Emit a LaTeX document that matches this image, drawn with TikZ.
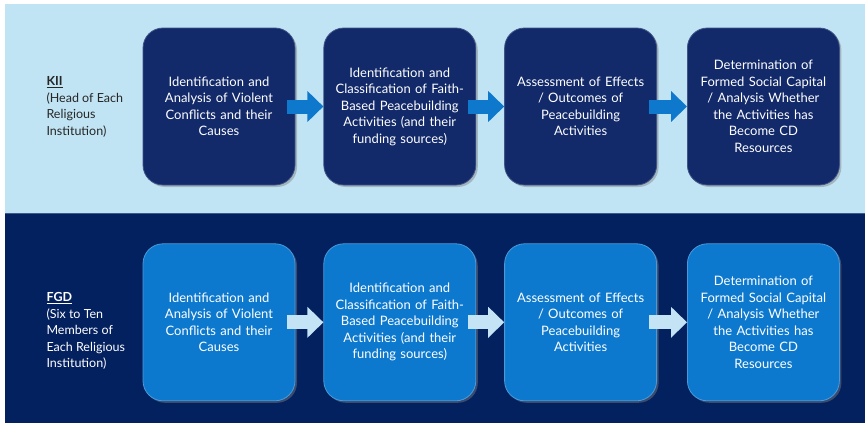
\documentclass[tikz,border=0pt]{standalone}
\usepackage{fontspec}
\setmainfont{Lato}
\usetikzlibrary{positioning,shadows,arrows.meta}
\definecolor{paleblue}{RGB}{193,228,244}
\definecolor{navy}{RGB}{3,32,95}
\definecolor{darkbox}{RGB}{18,41,106}
\definecolor{lightbox}{RGB}{13,121,206}
\definecolor{arrowblue}{RGB}{14,120,205}
\definecolor{arrowpale}{RGB}{196,227,245}

\begin{document}
\begin{tikzpicture}[x=1pt, y=-1pt,
    stage/.style={rounded corners=20pt, minimum width=152pt, minimum height=157pt,
      text width=140pt, align=center, text=white, line width=.8pt,
      font=\fontsize{13}{16.5}\selectfont,
      drop shadow={shadow xshift=2pt, shadow yshift=-2pt, opacity=.45}},
    kiibox/.style={stage, fill=darkbox, draw=darkbox!80!white},
    fgdbox/.style={stage, fill=lightbox, draw=lightbox!75!white},
    group/.style={anchor=west, align=left, font=\fontsize{12.5}{16.5}\selectfont},
    flow/.style={line width=14pt, -{Triangle[width=30pt,length=16pt]}},
    node distance=28pt]
    \useasboundingbox (0,0) rectangle (865,423);

    % the two bands
    \fill[paleblue] (5,4) rectangle (865,213);
    \fill[navy] (5,213) rectangle (865,423);
    \draw[navy!70!paleblue, line width=.8pt] (5,213) -- (865,213);

    % KII row
    \node[kiibox] (k1) at (219,106.5) {Identification and\\Analysis of Violent\\Conflicts and their\\Causes};
    \node[kiibox, right=of k1] (k2) {Identification and\\Classification of Faith-\\Based Peacebuilding\\Activities (and their\\funding sources)};
    \node[kiibox, right=of k2] (k3) {Assessment of Effects\\/ Outcomes of\\Peacebuilding\\Activities};
    \node[kiibox, right=30pt of k3] (k4) {Determination of\\Formed Social Capital\\/ Analysis Whether\\the Activities has\\Become CD\\Resources};

    % FGD row
    \node[fgdbox, below=58pt of k1] (f1) {Identification and\\Analysis of Violent\\Conflicts and their\\Causes};
    \node[fgdbox, right=of f1] (f2) {Identification and\\Classification of Faith-\\Based Peacebuilding\\Activities (and their\\funding sources)};
    \node[fgdbox, right=of f2] (f3) {Assessment of Effects\\/ Outcomes of\\Peacebuilding\\Activities};
    \node[fgdbox, right=30pt of f3] (f4) {Determination of\\Formed Social Capital\\/ Analysis Whether\\the Activities has\\Become CD\\Resources};

    \node[group, text=black!85] (kii) at (43,107) {\underline{\textbf{KII}}\\(Head of Each\\Religious\\Institution)};
    \node[group, text=white] (fgd) at (43,331) {\underline{\textbf{FGD}}\\(Six to Ten\\Members of\\Each Religious\\Institution)};

    \draw[flow, arrowblue] ([xshift=-8pt]k1.east) -- (k2.west);
    \draw[flow, arrowblue] ([xshift=-8pt]k2.east) -- (k3.west);
    \draw[flow, arrowblue] ([xshift=-8pt]k3.east) -- (k4.west);
    \draw[flow, arrowpale] ([xshift=-8pt]f1.east) -- (f2.west);
    \draw[flow, arrowpale] ([xshift=-8pt]f2.east) -- (f3.west);
    \draw[flow, arrowpale] ([xshift=-8pt]f3.east) -- (f4.west);
\end{tikzpicture}
\end{document}
